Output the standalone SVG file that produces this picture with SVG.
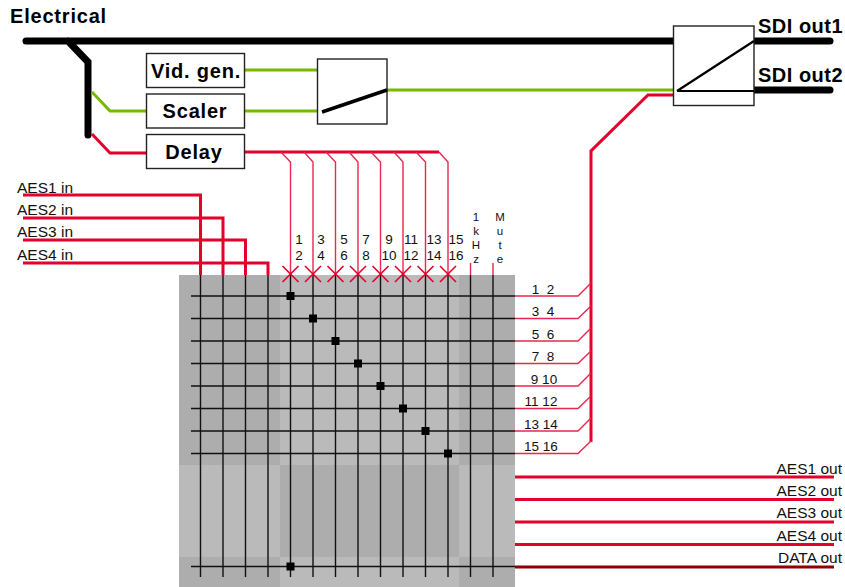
<svg xmlns="http://www.w3.org/2000/svg" width="845" height="587" viewBox="0 0 845 587">
<style>
.bus{fill:none;stroke:#000;stroke-width:7;stroke-linecap:round;stroke-linejoin:miter}
.g{fill:none;stroke:#76b900;stroke-width:3}
.r{fill:none;stroke:#e4002b;stroke-width:3}
.rt{fill:none;stroke:#e8284f;stroke-width:1.4}
.x{fill:none;stroke:#e4002b;stroke-width:1.6}
.k{fill:none;stroke:#111;stroke-width:1.4}
.box{fill:#fff;stroke:#222;stroke-width:1.4}
.b{font:bold 20px "Liberation Sans",Arial,sans-serif;fill:#000;letter-spacing:.8px}
.n{font:15.500px "Liberation Sans",Arial,sans-serif;fill:#111}
.s{font:13.500px "Liberation Sans",Arial,sans-serif;fill:#111;text-anchor:middle}
.v{font:11.500px "Liberation Sans",Arial,sans-serif;fill:#111;text-anchor:middle}
.m{text-anchor:middle}
.e{text-anchor:end}
</style>
<defs>
<rect id="dot" x="-4" y="-4" width="8" height="8" fill="#000"/>
<path id="cross" d="M-8-8 8 8M8-8-8 8" class="x"/>
</defs>
<g id="matrix">
<rect x="179" y="275" width="336" height="312" fill="#bababa"/>
<rect x="179" y="275" width="101" height="190" fill="#adadad"/>
<rect x="459" y="275" width="56" height="190" fill="#adadad"/>
<rect x="280" y="465" width="179" height="92" fill="#adadad"/>
<rect x="179" y="557" width="101" height="30" fill="#adadad"/>
<rect x="459" y="557" width="56" height="30" fill="#adadad"/>
</g>
<g id="connectors">
<path class="bus" d="M26 41H674M68 41 88 62V135M754 41H830M754 90H830"/>
<path class="g" d="M92 92 110 111H147M245 70H318M245 111H318M387 90H674"/>
<path class="r" d="M92 134 110 153H147M245 152H439M674 95H648L591 151V442"/>
<path class="r" d="M23 195H200.500V275M23 218H223V275M23 240H245.500V275M23 263H268V275"/>
<path class="rt" d="M281 152 290.500 162V275M304 152 313 162V275M326 152 335.500 162V275M349 152 358 162V275M371 152 380.500 162V275M394 152 403 162V275M416 152 425.500 162V275M439 152 448 162V275"/>
<path class="rt" d="M470.500 263V275M493 263V275"/>
<path class="rt" d="M515 296H578L591 283M515 318.500H578L591 306M515 341H578L591 328M515 363.500H578L591 351M515 386H578L591 373M515 408.500H578L591 396M515 431H578L591 418M515 453.500H578L591 441"/>
<path class="r" d="M515 477H834M515 499.500H834M515 522H834M515 544.500H834"/>
<path d="M515 567H834" fill="none" stroke="#8b0000" stroke-width="3"/>
<g class="k">
<path d="M200.500 275V577M223 275V577M245.500 275V577M268 275V577M290.500 275V577M313 275V577M335.500 275V577M358 275V577M380.500 275V577M403 275V577M425.500 275V577M448 275V577M470.500 275V577M493 275V577"/>
<path d="M191 296H515M191 318.500H515M191 341H515M191 363.500H515M191 386H515M191 408.500H515M191 431H515M191 453.500H515M191 566.500H515"/>
</g>
<use href="#cross" x="290.500" y="274"/><use href="#cross" x="313" y="274"/><use href="#cross" x="335.500" y="274"/><use href="#cross" x="358" y="274"/><use href="#cross" x="380.500" y="274"/><use href="#cross" x="403" y="274"/><use href="#cross" x="425.500" y="274"/><use href="#cross" x="448" y="274"/>
<use href="#dot" x="290.500" y="296"/><use href="#dot" x="313" y="318.500"/><use href="#dot" x="335.500" y="341"/><use href="#dot" x="358" y="363.500"/><use href="#dot" x="380.500" y="386"/><use href="#dot" x="403" y="408.500"/><use href="#dot" x="425.500" y="431"/><use href="#dot" x="448" y="453.500"/><use href="#dot" x="290.500" y="566.500"/>
</g>
<g id="vid-gen"><rect class="box" x="146.500" y="53.500" width="98" height="34"/><text class="b m" x="196" y="78">Vid. gen.</text></g>
<g id="scaler"><rect class="box" x="146.500" y="94" width="98" height="34"/><text class="b m" x="195" y="118">Scaler</text></g>
<g id="delay"><rect class="box" x="146.500" y="134.500" width="98" height="34"/><text class="b m" x="194" y="159">Delay</text></g>
<g id="video-switch"><rect class="box" x="317.500" y="59" width="69.500" height="65"/><path d="M322 112 387 90" fill="none" stroke="#000" stroke-width="3.500"/></g>
<g id="sdi-switch"><rect class="box" x="673.500" y="26" width="80.500" height="79.500"/><path d="M677 91 754 41M677 91H754" fill="none" stroke="#000" stroke-width="2.200"/></g>
<g id="labels">
<text class="b" x="10" y="23">Electrical</text>
<text class="b" x="758" y="33" style="letter-spacing:.5px">SDI out1</text>
<text class="b" x="758" y="82" style="letter-spacing:.5px">SDI out2</text>
<text class="n" x="17" y="193">AES1 in</text><text class="n" x="17" y="215">AES2 in</text><text class="n" x="17" y="237">AES3 in</text><text class="n" x="17" y="260">AES4 in</text>
<text class="n e" x="842" y="474">AES1 out</text><text class="n e" x="842" y="496">AES2 out</text><text class="n e" x="842" y="518">AES3 out</text><text class="n e" x="842" y="541">AES4 out</text><text class="n e" x="842" y="563">DATA out</text>
<text class="s" x="299" y="244">1</text><text class="s" x="299" y="260">2</text>
<text class="s" x="321" y="244">3</text><text class="s" x="321" y="260">4</text>
<text class="s" x="344" y="244">5</text><text class="s" x="344" y="260">6</text>
<text class="s" x="366" y="244">7</text><text class="s" x="366" y="260">8</text>
<text class="s" x="389" y="244">9</text><text class="s" x="389" y="260">10</text>
<text class="s" x="411" y="244">11</text><text class="s" x="411" y="260">12</text>
<text class="s" x="434" y="244">13</text><text class="s" x="434" y="260">14</text>
<text class="s" x="456" y="244">15</text><text class="s" x="456" y="260">16</text>
<text class="v" x="476" y="221">1</text><text class="v" x="476" y="235">k</text><text class="v" x="476" y="249">H</text><text class="v" x="476" y="263">z</text>
<text class="v" x="500" y="221">M</text><text class="v" x="500" y="235">u</text><text class="v" x="500" y="249">t</text><text class="v" x="500" y="263">e</text>
<text class="s" x="543" y="294" xml:space="preserve">1  2</text>
<text class="s" x="543" y="316" xml:space="preserve">3  4</text><text class="s" x="543" y="339" xml:space="preserve">5  6</text><text class="s" x="543" y="361" xml:space="preserve">7  8</text><text class="s" x="544" y="384" xml:space="preserve">9 10</text><text class="s" x="541" y="406" xml:space="preserve">11 12</text><text class="s" x="541" y="429" xml:space="preserve">13 14</text><text class="s" x="541" y="451" xml:space="preserve">15 16</text>
</g>
</svg>
